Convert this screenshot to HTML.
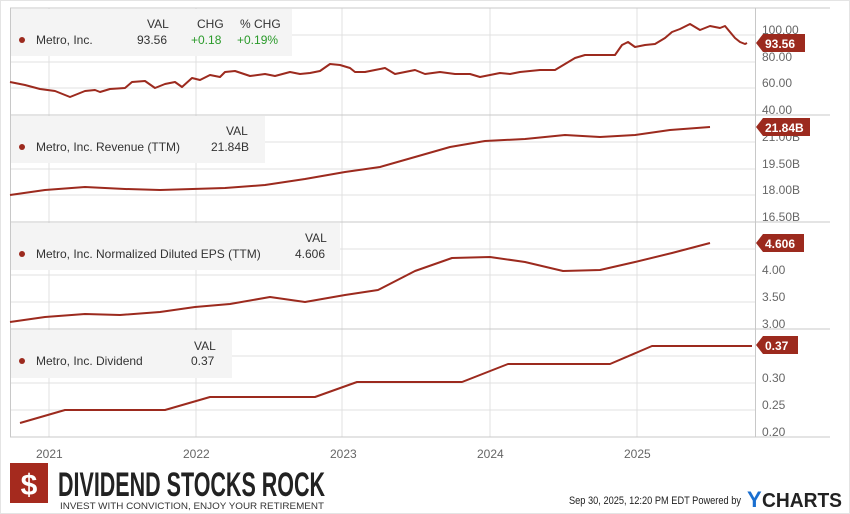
<!DOCTYPE html><html><head><style>
body{margin:0;width:850px;height:514px;background:#fff;font-family:"Liberation Sans",sans-serif;overflow:hidden}
</style></head><body>
<svg width="850" height="514" xmlns="http://www.w3.org/2000/svg" style="position:absolute;left:0;top:0" font-family="Liberation Sans, sans-serif">
<rect x="0.5" y="0.5" width="849" height="513" fill="none" stroke="#e4e4e4"/>
<g stroke="#e0e0e0" stroke-width="1">
<line x1="49" y1="8" x2="49" y2="437"/><line x1="196" y1="8" x2="196" y2="437"/><line x1="342" y1="8" x2="342" y2="437"/><line x1="490" y1="8" x2="490" y2="437"/><line x1="637" y1="8" x2="637" y2="437"/>
<line x1="10" y1="35" x2="755" y2="35"/><line x1="10" y1="62" x2="755" y2="62"/><line x1="10" y1="88" x2="755" y2="88"/>
<line x1="10" y1="142" x2="755" y2="142"/><line x1="10" y1="169" x2="755" y2="169"/><line x1="10" y1="195" x2="755" y2="195"/>
<line x1="10" y1="249" x2="755" y2="249"/><line x1="10" y1="275" x2="755" y2="275"/><line x1="10" y1="302" x2="755" y2="302"/>
<line x1="10" y1="356" x2="755" y2="356"/><line x1="10" y1="383" x2="755" y2="383"/><line x1="10" y1="410" x2="755" y2="410"/>
</g>
<g stroke="#c8c8c8" stroke-width="1">
<line x1="10" y1="8" x2="830" y2="8"/><line x1="10" y1="115" x2="830" y2="115"/><line x1="10" y1="222" x2="830" y2="222"/><line x1="10" y1="329" x2="830" y2="329"/><line x1="10" y1="437" x2="830" y2="437"/>
<line x1="10.5" y1="8" x2="10.5" y2="437"/><line x1="755.5" y1="8" x2="755.5" y2="437"/>
</g>
<g fill="#f4f4f4"><rect x="11" y="9" width="281" height="47"/><rect x="11" y="116" width="254" height="47"/><rect x="11" y="223" width="329" height="47"/><rect x="11" y="330" width="221" height="48"/></g>
<g font-size="12" fill="#333">
<text x="147" y="28">VAL</text><text x="197" y="28">CHG</text><text x="240" y="28">% CHG</text>
<circle cx="22" cy="40" r="3" fill="#9c2a1e"/><text x="36" y="44">Metro, Inc.</text><text x="137" y="44">93.56</text>
<text x="191" y="44" fill="#2a9a2a">+0.18</text><text x="237" y="44" fill="#2a9a2a">+0.19%</text>
<text x="226" y="135">VAL</text><circle cx="22" cy="147" r="3" fill="#9c2a1e"/><text x="36" y="151">Metro, Inc. Revenue (TTM)</text><text x="211" y="151">21.84B</text>
<text x="305" y="242">VAL</text><circle cx="22" cy="254" r="3" fill="#9c2a1e"/><text x="36" y="258">Metro, Inc. Normalized Diluted EPS (TTM)</text><text x="295" y="258">4.606</text>
<text x="194" y="350">VAL</text><circle cx="22" cy="361" r="3" fill="#9c2a1e"/><text x="36" y="365">Metro, Inc. Dividend</text><text x="191" y="365">0.37</text>
</g>
<g font-size="12" fill="#666">
<text x="762" y="34">100.00</text><text x="762" y="61">80.00</text><text x="762" y="87">60.00</text><text x="762" y="114">40.00</text>
<text x="762" y="141">21.00B</text><text x="762" y="168">19.50B</text><text x="762" y="194">18.00B</text><text x="762" y="221">16.50B</text>
<text x="762" y="274">4.00</text><text x="762" y="301">3.50</text><text x="762" y="328">3.00</text>
<text x="762" y="382">0.30</text><text x="762" y="409">0.25</text><text x="762" y="436">0.20</text>
<text x="36" y="458">2021</text><text x="183" y="458">2022</text><text x="330" y="458">2023</text><text x="477" y="458">2024</text><text x="624" y="458">2025</text>
</g>
<g fill="none" stroke="#9c2a1e" stroke-width="2" stroke-linejoin="round">
<polyline points="10,82 25,85 40,89 55,91 70,97 85,91 95,90 100,92 110,89 125,88 132,82 145,81 155,88 165,84 175,82 182,87 192,78 200,80 210,75 220,77 225,72 235,71 250,76 265,74 275,76 290,72 300,74 310,73 320,71 330,64 340,65 350,68 355,72 365,72 375,70 385,68 395,74 405,72 415,70 425,74 440,72 455,74 470,74 480,77 490,75 500,73 510,74 520,72 530,71 540,70 555,70 565,64 575,58 585,55 595,55 605,55 615,55 622,45 628,42 635,47 645,45 655,44 665,38 672,32 680,29 690,24 700,30 710,26 720,28 725,26 735,38 740,42 745,44 747,43"/>
<polyline points="10,195 45,190 85,187 125,189 160,190 225,188 265,185 305,179 345,172 380,167 415,157 450,147 485,141 525,139 565,135 600,137 635,135 670,130 710,127"/>
<polyline points="10,322 45,317 85,314 120,315 160,312 195,307 230,304 270,297 305,302 345,295 378,290 415,271 452,258 490,257 525,262 563,271 600,270 635,262 672,253 710,243"/>
<polyline points="20,423 65,410 165,410 210,397 315,397 357,382 462,382 508,364 610,364 652,346 752,346"/>
</g>
<g fill="#9c2a1e">
<polygon points="756,43 763,34 805,34 805,52 763,52"/>
<polygon points="756,127 763,118 810,118 810,136 763,136"/>
<polygon points="756,243 763,234 804,234 804,252 763,252"/>
<polygon points="756,345 763,336 798,336 798,354 763,354"/>
</g>
<g font-size="12" font-weight="bold" fill="#fff">
<text x="765" y="48">93.56</text><text x="765" y="132">21.84B</text><text x="765" y="248">4.606</text><text x="765" y="350">0.37</text>
</g>
<rect x="10" y="463" width="38" height="40" fill="#a52a1e"/>
<text x="29" y="495" font-size="30" font-weight="bold" fill="#fff" text-anchor="middle">$</text>
<text x="58" y="496" font-size="34" font-weight="bold" fill="#222" textLength="267" lengthAdjust="spacingAndGlyphs">DIVIDEND STOCKS ROCK</text>
<text x="60" y="509" font-size="9" fill="#333" textLength="264" lengthAdjust="spacingAndGlyphs">INVEST WITH CONVICTION, ENJOY YOUR RETIREMENT</text>
<text x="569" y="504" font-size="11" fill="#222" textLength="172" lengthAdjust="spacingAndGlyphs">Sep 30, 2025, 12:20 PM EDT Powered by</text>
<text x="747" y="507" font-size="22" font-weight="bold" fill="#1a6fd0">Y</text>
<text x="762" y="507" font-size="20" font-weight="bold" fill="#222" textLength="80" lengthAdjust="spacingAndGlyphs">CHARTS</text>
</svg>
</body></html>
